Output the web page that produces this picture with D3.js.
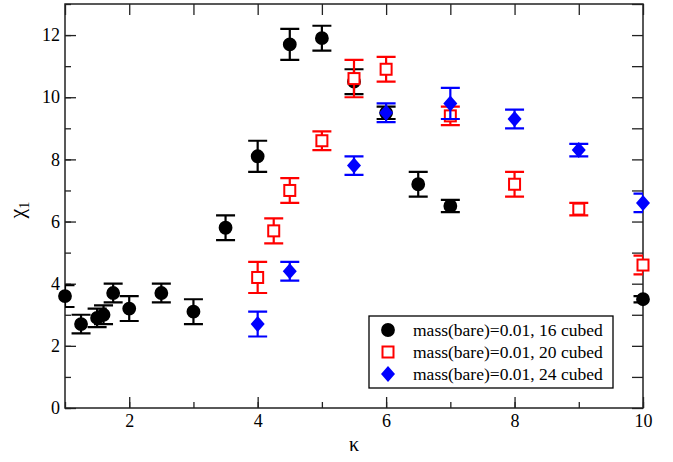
<!DOCTYPE html>
<html>
<head>
<script src="https://d3js.org/d3.v7.min.js"></script>
<style>
body { margin: 0; background: #fff; }
</style>
</head>
<body>
<div id="chart"></div>
<script>
var width = 673;
var height = 462;
var margin = {top: 4, right: 30, bottom: 54, left: 65};
var fontSerif = "'Liberation Serif', 'Times New Roman', Times, serif";

// kappa, chi_1, error
var kappa16 = [1, 1.25, 1.5, 1.6, 1.75, 2, 2.5, 3, 3.5, 4, 4.5, 5, 5.5, 6, 6.5, 7, 10];
var chi16   = [3.6, 2.7, 2.9, 3.0, 3.7, 3.2, 3.7, 3.1, 5.8, 8.1, 11.7, 11.9, 10.5, 9.5, 7.2, 6.5, 3.5];
var err16   = [0.35, 0.3, 0.3, 0.3, 0.3, 0.4, 0.3, 0.4, 0.4, 0.5, 0.5, 0.4, 0.4, 0.2, 0.4, 0.2, 0.1];

var kappa20 = [4, 4.25, 4.5, 5, 5.5, 6, 7, 8, 9, 10];
var chi20   = [4.2, 5.7, 7.0, 8.6, 10.6, 10.9, 9.4, 7.2, 6.4, 4.6];
var err20   = [0.5, 0.4, 0.4, 0.3, 0.6, 0.4, 0.3, 0.4, 0.2, 0.3];

var kappa24 = [4, 4.5, 5.5, 6, 7, 8, 9, 10];
var chi24   = [2.7, 4.4, 7.8, 9.5, 9.8, 9.3, 8.3, 6.6];
var err24   = [0.4, 0.3, 0.3, 0.3, 0.5, 0.3, 0.2, 0.3];

var seriesNames = ["mass(bare)=0.01, 16 cubed", "mass(bare)=0.01, 20 cubed", "mass(bare)=0.01, 24 cubed"];
var xTicks = [2, 4, 6, 8, 10];
var yTicks = [0, 2, 4, 6, 8, 10, 12];

var series = [
  {name: seriesNames[0], kappa: kappa16, chi: chi16, err: err16, color: "#000000", shape: "circle"},
  {name: seriesNames[1], kappa: kappa20, chi: chi20, err: err20, color: "#ff0000", shape: "square"},
  {name: seriesNames[2], kappa: kappa24, chi: chi24, err: err24, color: "#0000ff", shape: "diamond"}
];

var svg = d3.select("#chart").append("svg")
  .attr("width", width)
  .attr("height", height)
  .attr("font-family", fontSerif);

var x = d3.scaleLinear().domain([1, 10]).range([margin.left, width - margin.right]);
var y = d3.scaleLinear().domain([0, 13]).range([height - margin.bottom, margin.top]);

svg.append("clipPath").attr("id", "plotclip")
  .append("rect")
  .attr("x", x(1)).attr("y", y(13))
  .attr("width", x(10) - x(1)).attr("height", y(0) - y(13));

// axes with inward ticks
var minorX = d3.range(1, 11);
var minorY = d3.range(0, 14);

function styleAxis(g) {
  g.attr("font-family", fontSerif).attr("font-size", 18);
  g.selectAll(".domain").remove();
  g.selectAll(".tick line").attr("stroke", "#222").attr("stroke-width", 1.3);
  g.selectAll(".tick text").attr("fill", "#000");
}

svg.append("g")
  .attr("transform", "translate(0," + y(0) + ")")
  .call(d3.axisBottom(x).tickValues(minorX).tickSize(-6).tickFormat(""))
  .call(styleAxis);
svg.append("g")
  .attr("transform", "translate(0," + y(0) + ")")
  .call(d3.axisBottom(x).tickValues(xTicks).tickSize(-11).tickPadding(6).tickFormat(d3.format("d")))
  .call(styleAxis);

svg.append("g")
  .attr("transform", "translate(0," + y(13) + ")")
  .call(d3.axisTop(x).tickValues(minorX).tickSize(-11).tickFormat(""))
  .call(styleAxis);

svg.append("g")
  .attr("transform", "translate(" + x(1) + ",0)")
  .call(d3.axisLeft(y).tickValues(minorY).tickSize(-6).tickFormat(""))
  .call(styleAxis);
svg.append("g")
  .attr("transform", "translate(" + x(1) + ",0)")
  .call(d3.axisLeft(y).tickValues(yTicks).tickSize(-11).tickPadding(5).tickFormat(d3.format("d")))
  .call(styleAxis);

svg.append("g")
  .attr("transform", "translate(" + x(10) + ",0)")
  .call(d3.axisRight(y).tickValues(minorY).tickSize(-11).tickFormat(""))
  .call(styleAxis);

// frame
svg.append("rect")
  .attr("x", x(1)).attr("y", y(13))
  .attr("width", x(10) - x(1)).attr("height", y(0) - y(13))
  .attr("fill", "none").attr("stroke", "#222").attr("stroke-width", 1.5);

// error bars + markers
var capHalf = 9.5;
var circleSym = d3.symbol().type(d3.symbolCircle).size(150);
var diamondSym = "M0,-8L7,0L0,8L-7,0Z";

function drawMarker(g, shape, color) {
  if (shape === "circle") {
    g.append("path").attr("d", circleSym()).attr("fill", color);
  } else if (shape === "square") {
    g.append("rect").attr("x", -5.5).attr("y", -5.5).attr("width", 11).attr("height", 11)
      .attr("fill", "#fff").attr("stroke", color).attr("stroke-width", 2);
  } else {
    g.append("path").attr("d", diamondSym).attr("fill", color);
  }
}

series.forEach(function (s) {
  var pts = s.kappa.map(function (k, i) { return {k: k, v: s.chi[i], e: s.err[i]}; });
  var eb = svg.append("g").attr("clip-path", "url(#plotclip)")
    .attr("stroke", s.color).attr("stroke-width", 2.2).attr("fill", "none");
  pts.forEach(function (p) {
    var cx = x(p.k), y1 = y(p.v + p.e), y2 = y(p.v - p.e);
    eb.append("path")
      .attr("d", "M" + cx + "," + y1 + "V" + y2 +
                 "M" + (cx - capHalf) + "," + y1 + "H" + (cx + capHalf) +
                 "M" + (cx - capHalf) + "," + y2 + "H" + (cx + capHalf));
  });
  var mk = svg.append("g");
  pts.forEach(function (p) {
    var g = mk.append("g").attr("transform", "translate(" + x(p.k) + "," + y(p.v) + ")");
    drawMarker(g, s.shape, s.color);
  });
});

// legend
var leg = svg.append("g").attr("transform", "translate(369,316)");
leg.append("rect").attr("width", 244).attr("height", 72)
  .attr("fill", "#fff").attr("stroke", "#000").attr("stroke-width", 1.3);
series.forEach(function (s, i) {
  var row = leg.append("g").attr("transform", "translate(19," + (14 + i * 22) + ")");
  drawMarker(row, s.shape, s.color);
  row.append("text").attr("x", 25).attr("y", 6)
    .attr("font-size", 17.5).text(s.name);
});

// axis titles
svg.append("text")
  .attr("x", (x(1) + x(10)) / 2).attr("y", 451)
  .attr("text-anchor", "middle")
  .attr("font-size", 20)
  .text("\u03ba");

var yl = svg.append("text")
  .attr("transform", "translate(24," + ((y(0) + y(13)) / 2 + 4) + ") rotate(-90)")
  .attr("text-anchor", "middle")
  .attr("font-size", 22);
yl.append("tspan").text("\u03c7");
yl.append("tspan").attr("dy", 5).attr("font-size", 14).text("1");
</script>
</body>
</html>
